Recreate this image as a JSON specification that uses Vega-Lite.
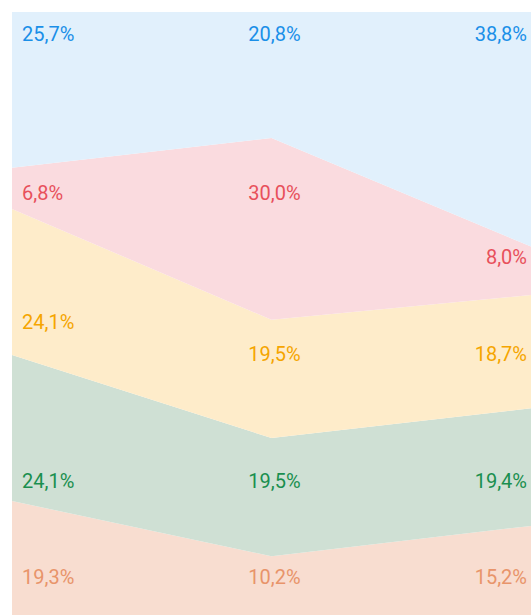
{
  "$schema": "https://vega.github.io/schema/vega-lite/v6.json",
  "width": 519,
  "height": 606,
  "autosize": {"type": "none"},
  "padding": {"left": 12, "top": 12, "right": 0, "bottom": 0},
  "background": "white",
  "config": {"view": {"stroke": null}},
  "data": {
    "values": [
      {"col": 0, "series": "s1", "k": 1, "value": 19.3, "label": "19,3%", "labelAt": 6.6},
      {"col": 1, "series": "s1", "k": 1, "value": 10.2, "label": "10,2%", "labelAt": 6.6},
      {"col": 2, "series": "s1", "k": 1, "value": 15.2, "label": "15,2%", "labelAt": 6.6},
      {"col": 0, "series": "s2", "k": 2, "value": 24.1, "label": "24,1%", "labelAt": 22.4},
      {"col": 1, "series": "s2", "k": 2, "value": 19.5, "label": "19,5%", "labelAt": 22.4},
      {"col": 2, "series": "s2", "k": 2, "value": 19.4, "label": "19,4%", "labelAt": 22.4},
      {"col": 0, "series": "s3", "k": 3, "value": 24.1, "label": "24,1%", "labelAt": 48.7},
      {"col": 1, "series": "s3", "k": 3, "value": 19.5, "label": "19,5%", "labelAt": 43.4},
      {"col": 2, "series": "s3", "k": 3, "value": 18.7, "label": "18,7%", "labelAt": 43.4},
      {"col": 0, "series": "s4", "k": 4, "value": 6.8, "label": "6,8%", "labelAt": 70.0},
      {"col": 1, "series": "s4", "k": 4, "value": 30.0, "label": "30,0%", "labelAt": 70.0},
      {"col": 2, "series": "s4", "k": 4, "value": 8.0, "label": "8,0%", "labelAt": 59.4},
      {"col": 0, "series": "s5", "k": 5, "value": 25.7, "label": "25,7%", "labelAt": 96.2},
      {"col": 1, "series": "s5", "k": 5, "value": 20.8, "label": "20,8%", "labelAt": 96.2},
      {"col": 2, "series": "s5", "k": 5, "value": 38.8, "label": "38,8%", "labelAt": 96.2}
    ]
  },
  "layer": [
    {
      "mark": {"type": "area", "interpolate": "linear", "clip": true},
      "encoding": {
        "x": {"field": "col", "type": "quantitative", "scale": {"domain": [0, 2]}, "axis": null},
        "y": {"field": "value", "type": "quantitative", "stack": "zero", "scale": {"domain": [0, 100]}, "axis": null},
        "order": {"field": "k", "type": "quantitative"},
        "color": {
          "field": "series", "type": "nominal", "legend": null,
          "scale": {"domain": ["s1", "s2", "s3", "s4", "s5"], "range": ["#f8ddd0", "#cfe0d4", "#feecca", "#fadbdf", "#e1f0fc"]}
        }
      }
    },
    {
      "transform": [{"filter": "datum.col == 0"}],
      "mark": {"type": "text", "align": "left", "baseline": "middle", "dx": 10, "font": "Roboto", "fontWeight": 400, "fontSize": 20},
      "encoding": {
        "x": {"field": "col", "type": "quantitative", "scale": {"domain": [0, 2]}, "axis": null},
        "y": {"field": "labelAt", "type": "quantitative", "scale": {"domain": [0, 100]}, "axis": null},
        "text": {"field": "label"},
        "color": {
          "field": "series", "type": "nominal", "legend": null,
          "scale": {"domain": ["s1", "s2", "s3", "s4", "s5"], "range": ["#e8946a", "#1a8f4f", "#f5a500", "#e8505b", "#1a8fe8"]}
        }
      }
    },
    {
      "transform": [{"filter": "datum.col == 1"}],
      "mark": {"type": "text", "align": "center", "baseline": "middle", "dx": 3, "font": "Roboto", "fontWeight": 400, "fontSize": 20},
      "encoding": {
        "x": {"field": "col", "type": "quantitative", "scale": {"domain": [0, 2]}, "axis": null},
        "y": {"field": "labelAt", "type": "quantitative", "scale": {"domain": [0, 100]}, "axis": null},
        "text": {"field": "label"},
        "color": {
          "field": "series", "type": "nominal", "legend": null,
          "scale": {"domain": ["s1", "s2", "s3", "s4", "s5"], "range": ["#e8946a", "#1a8f4f", "#f5a500", "#e8505b", "#1a8fe8"]}
        }
      }
    },
    {
      "transform": [{"filter": "datum.col == 2"}],
      "mark": {"type": "text", "align": "right", "baseline": "middle", "dx": -4, "font": "Roboto", "fontWeight": 400, "fontSize": 20},
      "encoding": {
        "x": {"field": "col", "type": "quantitative", "scale": {"domain": [0, 2]}, "axis": null},
        "y": {"field": "labelAt", "type": "quantitative", "scale": {"domain": [0, 100]}, "axis": null},
        "text": {"field": "label"},
        "color": {
          "field": "series", "type": "nominal", "legend": null,
          "scale": {"domain": ["s1", "s2", "s3", "s4", "s5"], "range": ["#e8946a", "#1a8f4f", "#f5a500", "#e8505b", "#1a8fe8"]}
        }
      }
    }
  ],
  "resolve": {"scale": {"color": "independent"}}
}
